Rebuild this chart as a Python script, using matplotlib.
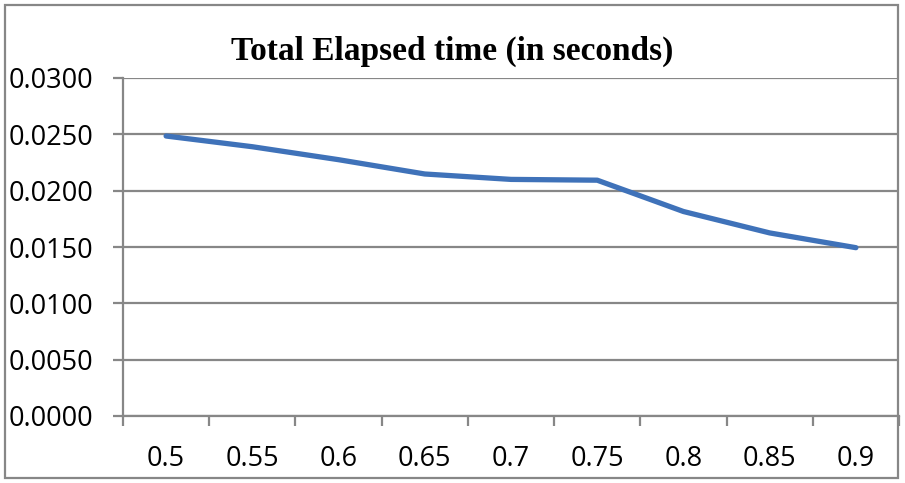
import matplotlib
matplotlib.use("Agg")
import matplotlib.pyplot as plt
from matplotlib.patches import Rectangle
import numpy as np

categories = ["0.5", "0.55", "0.6", "0.65", "0.7", "0.75", "0.8", "0.85", "0.9"]
elapsed = [0.02485, 0.0239, 0.02275, 0.02148, 0.0210, 0.02093, 0.01815, 0.01625, 0.01494]
yticks = [0.0, 0.005, 0.010, 0.015, 0.020, 0.025, 0.030]
title = "Total Elapsed time (in seconds)"

W, H = 905, 483
fig = plt.figure(figsize=(W / 100, H / 100), dpi=100)
fig.patch.set_facecolor("white")

gray = "#878787"
# outer chart border
fig.patches.append(Rectangle((5 / W, 5 / H), (898 - 5) / W, (478 - 5) / H,
                             transform=fig.transFigure, fill=False,
                             edgecolor=gray, linewidth=1.6, zorder=0))

left, right, top, bottom = 123 / W, 899 / W, 78 / H, 416 / H
ax = fig.add_axes([left, 1 - bottom, right - left, bottom - top])

x = np.arange(len(categories))
ax.plot(x, elapsed, color="#3F72B9", linewidth=3.8, solid_capstyle="round",
        solid_joinstyle="round", zorder=3)

ax.set_xlim(-0.5, len(categories) - 0.5)
ax.set_ylim(0, 0.030)

ax.set_yticks(yticks)
ax.set_yticklabels([f"{v:.4f}" for v in yticks])
ax.yaxis.grid(True, color=gray, linewidth=1.6)
ax.set_axisbelow(True)

ax.set_xticks(np.arange(-0.5, len(categories) - 0.5 + 0.01, 1.0))
ax.set_xticklabels([])
ax.set_xticks(x, minor=True)
ax.set_xticklabels(categories, minor=True)

for s in ["top", "right"]:
    ax.spines[s].set_visible(False)
for s in ["left", "bottom"]:
    ax.spines[s].set_color(gray)
    ax.spines[s].set_linewidth(1.6)

fontname = "Open Sans"
ax.tick_params(axis="y", which="major", length=7.5, width=1.6, color=gray,
               pad=14, labelsize=19.5, labelcolor="black")
ax.tick_params(axis="x", which="major", length=7, width=1.6, color=gray,
               direction="out")
ax.tick_params(axis="x", which="minor", length=0, pad=21, labelsize=19.5,
               labelcolor="black")
for lab in ax.get_yticklabels() + ax.get_xticklabels(minor=True):
    lab.set_fontfamily(fontname)

fig.text(452 / W, 1 - 60 / H, title, ha="center", va="baseline",
         fontsize=24, fontweight="bold", family="Liberation Serif")

fig.savefig("out.png", dpi=100, facecolor="white")
